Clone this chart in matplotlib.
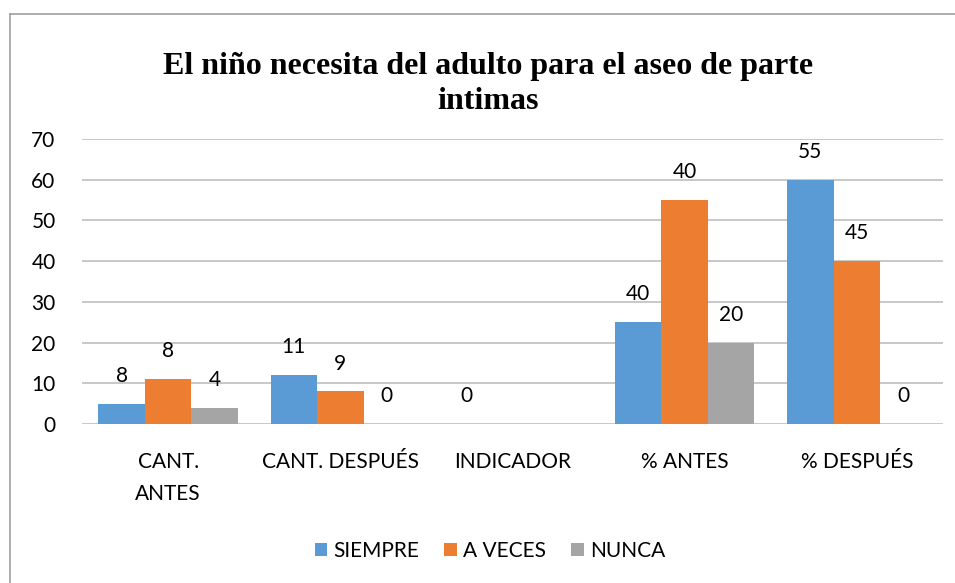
import matplotlib
matplotlib.use('Agg')
import matplotlib.pyplot as plt
from matplotlib.lines import Line2D
import numpy as np

categories = ['CANT.\nANTES', 'CANT. DESPUÉS', 'INDICADOR', '% ANTES', '% DESPUÉS']
series = ['SIEMPRE', 'A VECES', 'NUNCA']
siempre = [5, 12, 0, 25, 60]
a_veces = [11, 8, np.nan, 55, 40]
nunca = [4, 0, np.nan, 20, 0]
siempre_labels = ['8', '11', '0', '40', '55']
a_veces_labels = ['8', '9', '', '40', '45']
nunca_labels = ['4', '0', '', '20', '0']
colors = ['#5B9BD5', '#ED7D31', '#A5A5A5']

plt.rcParams['font.family'] = ['Lato', 'DejaVu Sans']

fig = plt.figure(figsize=(9.55, 5.83), dpi=100)
ax = fig.add_axes([82 / 955, 1 - 424 / 583, (943 - 82) / 955, (424 - 139) / 583])

x = np.arange(len(categories))
w = 0.27
values = [siempre, a_veces, nunca]
labels = [siempre_labels, a_veces_labels, nunca_labels]
for i, (vals, labs) in enumerate(zip(values, labels)):
    pos = x + (i - 1) * w
    ax.bar(pos, vals, width=w, color=colors[i], label=series[i], zorder=3)
    for p, v, t in zip(pos, vals, labs):
        if t == '':
            continue
        ax.annotate(t, (p, v), xytext=(0, 20), textcoords='offset points',
                    ha='center', va='center', fontsize=15)

ax.set_xlim(-0.5, len(categories) - 0.5)
ax.set_ylim(0, 70)
ax.set_yticks(range(0, 71, 10))
ax.set_xticks(x)
ax.set_xticklabels(categories, fontsize=15, linespacing=1.75)
ax.tick_params(axis='y', labelsize=15, length=0, pad=19)
ax.tick_params(axis='x', length=0, pad=20)
ax.grid(axis='y', color='#BFBFBF', linewidth=1.2, zorder=0)
for s in ax.spines.values():
    s.set_visible(False)

fig.text(488 / 955, 1 - 84 / 583, 'El niño necesita del adulto para el aseo de parte\nintimas',
         ha='center', va='center', fontsize=23, fontweight='bold',
         family='Liberation Serif', linespacing=1.3)

ax.legend(loc='center', bbox_to_anchor=(490 / 955, 1 - 551 / 583), bbox_transform=fig.transFigure,
          ncol=3, frameon=False, fontsize=15, handlelength=0.6, handleheight=0.6,
          handletextpad=0.3, columnspacing=1.2)

# chart border (cut off at right and bottom)
fig.add_artist(Line2D([10 / 955, 10 / 955], [0, 1 - 14 / 583], transform=fig.transFigure,
                      color='#A0A0A0', linewidth=1.2))
fig.add_artist(Line2D([10 / 955, 1], [1 - 14 / 583, 1 - 14 / 583], transform=fig.transFigure,
                      color='#A0A0A0', linewidth=1.2))

fig.savefig('out.png', dpi=100)
